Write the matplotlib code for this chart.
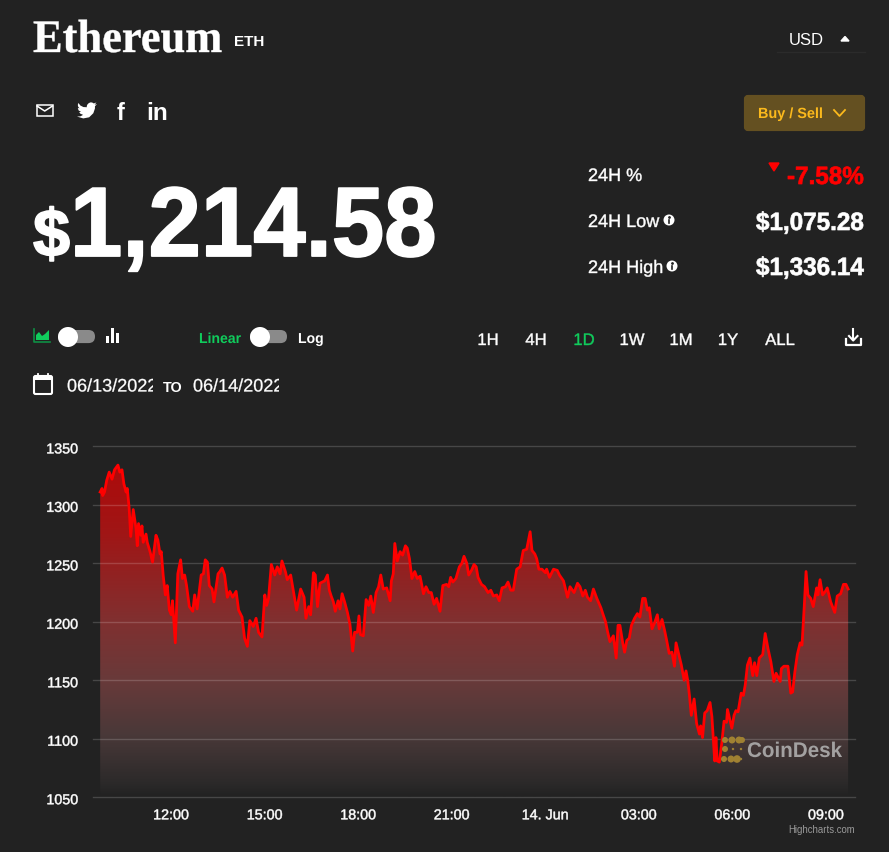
import numpy as np
import matplotlib
matplotlib.use("Agg")
import matplotlib.pyplot as plt
import matplotlib.patheffects as pe
from matplotlib.colors import LinearSegmentedColormap
from matplotlib.patches import Circle, FancyBboxPatch, Polygon, Rectangle
from matplotlib.transforms import Affine2D

plt.rcParams['font.family'] = ['Liberation Sans', 'DejaVu Sans']

BG = "#222222"
GREEN = "#10cc5c"
RED = "#ff0000"
W = 889
H = 853

# hours since 00:00 on 13 June
hours = [9.73, 9.79, 9.81, 9.87, 9.94, 10.02, 10.11, 10.19, 10.30, 10.36, 10.43, 10.49, 10.56, 10.60, 10.66, 10.71,
         10.79, 10.88, 10.92, 10.96, 11.03, 11.07, 11.11, 11.20, 11.24, 11.33, 11.41, 11.52, 11.58, 11.65, 11.69, 11.75,
         11.82, 11.88, 11.95, 12.01, 12.05, 12.14, 12.22, 12.31, 12.37, 12.44, 12.50, 12.59, 12.70, 12.76, 12.84, 12.93,
         12.97, 13.04, 13.10, 13.17, 13.23, 13.32, 13.38, 13.51, 13.57, 13.64, 13.72, 13.81, 13.89, 13.98, 14.09, 14.17,
         14.28, 14.36, 14.45, 14.53, 14.64, 14.73, 14.81, 14.92, 15.01, 15.07, 15.13, 15.22, 15.33, 15.41, 15.50, 15.56,
         15.67, 15.73, 15.84, 15.93, 16.03, 16.16, 16.27, 16.33, 16.42, 16.48, 16.57, 16.63, 16.70, 16.78, 16.93, 17.02,
         17.08, 17.14, 17.21, 17.27, 17.36, 17.42, 17.49, 17.57, 17.66, 17.74, 17.83, 17.89, 17.98, 18.03, 18.08, 18.17,
         18.26, 18.34, 18.41, 18.49, 18.58, 18.66, 18.73, 18.81, 18.92, 19.03, 19.07, 19.13, 19.18, 19.26, 19.35, 19.43,
         19.52, 19.58, 19.65, 19.73, 19.82, 19.90, 19.99, 20.10, 20.18, 20.27, 20.35, 20.44, 20.52, 20.63, 20.72, 20.84,
         20.91, 20.97, 21.04, 21.14, 21.25, 21.33, 21.40, 21.49, 21.55, 21.64, 21.72, 21.79, 21.85, 21.96, 22.06, 22.17,
         22.26, 22.34, 22.45, 22.53, 22.62, 22.73, 22.81, 22.90, 22.98, 23.09, 23.20, 23.30, 23.41, 23.52, 23.58, 23.67,
         23.73, 23.80, 23.90, 24.01, 24.05, 24.14, 24.27, 24.39, 24.46, 24.59, 24.72, 24.80, 24.93, 25.04, 25.12, 25.21,
         25.29, 25.36, 25.46, 25.55, 25.66, 25.79, 25.85, 25.94, 26.00, 26.08, 26.19, 26.28, 26.34, 26.40, 26.49, 26.55,
         26.62, 26.70, 26.77, 26.87, 26.96, 27.04, 27.13, 27.21, 27.28, 27.34, 27.43, 27.51, 27.60, 27.66, 27.75, 27.83,
         27.90, 27.98, 28.07, 28.15, 28.20, 28.28, 28.37, 28.46, 28.52, 28.58, 28.63, 28.69, 28.78, 28.86, 28.95, 28.99,
         29.05, 29.12, 29.20, 29.29, 29.35, 29.44, 29.48, 29.52, 29.59, 29.67, 29.74, 29.82, 29.85, 29.93, 29.99, 30.06,
         30.12, 30.19, 30.29, 30.36, 30.42, 30.49, 30.57, 30.66, 30.72, 30.79, 30.87, 30.98, 31.06, 31.15, 31.24, 31.34,
         31.41, 31.54, 31.58, 31.66, 31.79, 31.88, 31.94, 32.01, 32.09, 32.18, 32.24, 32.31, 32.37, 32.43, 32.52, 32.60,
         32.71, 32.75, 32.82, 32.90, 32.99, 33.05, 33.16, 33.29, 33.37, 33.48, 33.57, 33.65, 33.72]
prices = [1311, 1314, 1308, 1311, 1321, 1328, 1322, 1330, 1334, 1328, 1330, 1318, 1311, 1314, 1297, 1273,
          1296, 1280, 1265, 1284, 1274, 1282, 1268, 1275, 1268, 1260, 1251, 1274, 1270, 1258, 1260, 1240,
          1223, 1231, 1210, 1206, 1218, 1182, 1241, 1253, 1237, 1240, 1231, 1213, 1209, 1223, 1211, 1231,
          1240, 1241, 1253, 1251, 1231, 1228, 1217, 1241, 1243, 1246, 1240, 1221, 1226, 1221, 1226, 1210,
          1204, 1186, 1179, 1201, 1196, 1203, 1191, 1187, 1223, 1214, 1220, 1249, 1240, 1247, 1241, 1252,
          1243, 1236, 1240, 1226, 1210, 1228, 1221, 1203, 1213, 1206, 1242, 1240, 1213, 1233, 1235, 1240,
          1227, 1222, 1217, 1209, 1218, 1211, 1224, 1217, 1208, 1198, 1175, 1191, 1191, 1205, 1189, 1188,
          1219, 1214, 1222, 1208, 1225, 1230, 1240, 1228, 1229, 1218, 1235, 1241, 1267, 1252, 1260, 1257,
          1265, 1263, 1254, 1237, 1243, 1237, 1239, 1224, 1230, 1225, 1225, 1215, 1220, 1209, 1231, 1232,
          1230, 1238, 1234, 1237, 1247, 1250, 1256, 1250, 1240, 1244, 1249, 1247, 1238, 1232, 1230, 1225,
          1227, 1222, 1223, 1218, 1229, 1230, 1234, 1227, 1227, 1245, 1247, 1261, 1262, 1277, 1261, 1258,
          1254, 1245, 1245, 1242, 1245, 1238, 1245, 1244, 1240, 1235, 1221, 1230, 1225, 1233, 1230, 1222,
          1227, 1221, 1218, 1228, 1220, 1212, 1207, 1200, 1192, 1183, 1188, 1169, 1197, 1197, 1182, 1174,
          1184, 1186, 1197, 1203, 1207, 1204, 1220, 1220, 1210, 1212, 1194, 1199, 1206, 1194, 1202, 1193,
          1184, 1173, 1174, 1162, 1182, 1173, 1163, 1150, 1158, 1149, 1137, 1120, 1134, 1113, 1104, 1111,
          1101, 1122, 1124, 1131, 1119, 1081, 1101, 1081, 1080, 1097, 1115, 1114, 1125, 1116, 1109, 1120,
          1124, 1123, 1139, 1137, 1146, 1163, 1169, 1154, 1165, 1154, 1169, 1172, 1190, 1177, 1166, 1149,
          1156, 1149, 1160, 1162, 1162, 1139, 1140, 1157, 1172, 1182, 1180, 1212, 1243, 1223, 1220, 1213,
          1229, 1223, 1236, 1223, 1226, 1229, 1217, 1208, 1222, 1224, 1232, 1232, 1228]

y_ticks = [1050, 1100, 1150, 1200, 1250, 1300, 1350]
x_ticks = [12, 15, 18, 21, 24, 27, 30, 33]
x_labels = ["12:00", "15:00", "18:00", "21:00", "14. Jun", "03:00", "06:00", "09:00"]
ranges = ["1H", "4H", "1D", "1W", "1M", "1Y", "ALL"]
range_x = [488, 536, 584, 632, 681, 728, 780]


class Squeeze(pe.AbstractPathEffect):
    # tight letter spacing and heavier weight of the site font
    def __init__(self, x0=0, sx=1, stroke=0):
        super().__init__()
        self.x0, self.sx, self.stroke = x0, sx, stroke

    def draw_path(self, renderer, gc, tpath, affine, rgbFace=None):
        gc0 = renderer.new_gc()
        gc0.copy_properties(gc)
        gc0.set_linewidth(self.stroke)
        sq = Affine2D().translate(-self.x0, 0).scale(self.sx, 1).translate(self.x0, 0)
        renderer.draw_path(gc0, tpath, affine + sq, rgbFace)
        gc0.restore()


fig = plt.figure(figsize=(W / 100, H / 100), dpi=100, facecolor=BG)

# chart
ax = fig.add_axes([93 / W, (H - 798.2) / H, 762 / W, 350.8 / H], facecolor=BG)
xmin, xmax = 9.50, 33.94
grad = LinearSegmentedColormap.from_list("fade", [
    (0.0, (34 / 255, 34 / 255, 34 / 255)),
    (0.04, (44 / 255, 42 / 255, 42 / 255)),
    (0.17, (72 / 255, 56 / 255, 56 / 255)),
    (0.33, (104 / 255, 58 / 255, 58 / 255)),
    (0.50, (128 / 255, 48 / 255, 48 / 255)),
    (0.75, (160 / 255, 22 / 255, 22 / 255)),
    (1.0, (176 / 255, 8 / 255, 8 / 255)),
])
im = ax.imshow(np.linspace(0, 1, 256).reshape(-1, 1), cmap=grad, vmin=0, vmax=1, origin="lower",
               extent=[xmin, xmax, 1050, 1350], aspect="auto", zorder=1)
area = ax.fill_between(hours, prices, 1050, facecolor="none", edgecolor="none")
im.set_clip_path(area.get_paths()[0], transform=ax.transData)
ax.plot(hours, prices, color=RED, lw=2.0, solid_joinstyle="round", zorder=3)

ax.set_xlim(xmin, xmax)
ax.set_ylim(1050, 1350)
ax.set_yticks(y_ticks)
ax.set_xticks(x_ticks)
ax.set_xticklabels(x_labels)
ax.set_axisbelow("line")
ax.grid(axis="y", color="white", alpha=0.17, lw=1, clip_on=False)
ax.tick_params(length=0, labelcolor="white", labelsize=10.3)
ax.tick_params(axis="y", pad=10.8)
ax.tick_params(axis="x", pad=8)
for s in ax.spines.values():
    s.set_visible(False)
for lab in ax.get_xticklabels() + ax.get_yticklabels():
    lab.set_path_effects([Squeeze(stroke=0.35)])
for lab in ax.get_yticklabels():
    lab.set_transform(lab.get_transform() + Affine2D().translate(0, -1.5))

# everything around the chart, in pixel coordinates of the screenshot
ui = fig.add_axes([0, 0, 1, 1], facecolor="none")
ui.set_xlim(0, W)
ui.set_ylim(H, 0)
ui.axis("off")


def label(x, y, s, size, color="white", weight="normal", ha="left", va="baseline", squeeze=1, stroke=0, **kw):
    t = ui.text(x, y, s, fontsize=size, color=color, fontweight=weight, ha=ha, va=va, **kw)
    if squeeze != 1 or stroke:
        t.set_path_effects([Squeeze(x, squeeze, stroke)])
    return t


label(33, 53, "Ethereum", 33.5, weight="bold", family="Liberation Serif", squeeze=0.955, stroke=0.3)
label(234, 46, "ETH", 11, weight="bold")
label(789, 45, "USD", 12)
ui.add_patch(Polygon([(841, 42), (849, 42), (845, 37.5)], color="white"))
ui.plot([777, 865], [53, 53], color="#2b2b2b", lw=1)

# share icons
ui.add_patch(Rectangle((37, 106), 15.5, 11, fill=False, ec="white", lw=1.1))
ui.plot([37, 44.7, 52.5], [107, 112, 107], color="white", lw=1.1)
bird = [(24, 4.6), (21.1, 5.35), (23.3, 2.6), (20.2, 3.8), (18.5, 2.8), (16.6, 2.4), (14.2, 3.3), (12.3, 5.3),
        (11.7, 7.2), (11.78, 8.3), (7.7, 8.1), (4.1, 6.3), (1.64, 3.16), (0.97, 5.64), (1.5, 7.9), (3.16, 9.73),
        (0.93, 9.12), (1.9, 12.1), (4.88, 14), (2.67, 14.09), (3.8, 15.9), (7.27, 17.5), (4.2, 19.2), (0, 19.54),
        (7.55, 21.75), (14.6, 20.4), (19.6, 15.5), (21.55, 9.77), (21.55, 7.76), (21.54, 7.13)]
ui.add_patch(Polygon([(77 + px * 20 / 24, 101.3 + py * 20 / 24) for px, py in bird], color="white", lw=0))
label(116.5, 120, "f", 17, weight="bold")
label(146, 120, "in", 17.5, weight="bold")

# buy button
ui.add_patch(FancyBboxPatch((746, 98), 117, 32, boxstyle="round,pad=0,rounding_size=2", mutation_aspect=1,
                            fc="#645021", ec="#645021", lw=3))
label(758, 119, "Buy / Sell", 10.6, color="#fbb91c", weight="bold", squeeze=0.98)
ui.plot([834, 839.5, 845], [111, 117, 111], color="#fbb91c", lw=1.3)

# price
label(33, 257, "$", 48, weight="bold", stroke=1.2)
label(70, 257, "1,214.58", 71, weight="bold", squeeze=0.955, stroke=1.3)

# stats
label(588, 182, "24H %", 13, stroke=0.3)
label(588, 228, "24H Low", 13, stroke=0.3)
label(588, 274, "24H High", 13, stroke=0.3)
label(864, 185, "-7.58%", 18, color=RED, weight="bold", ha="right", squeeze=0.97, stroke=0.5)
label(864, 231, "$1,075.28", 18, weight="bold", ha="right", squeeze=0.97, stroke=0.5)
label(864, 276, "$1,336.14", 18, weight="bold", ha="right", squeeze=0.97, stroke=0.5)
ui.add_patch(Polygon([(769, 164), (779, 164), (774, 172)], color=RED))
for cx, cy in [(669, 221), (672, 267)]:
    ui.add_patch(Circle((cx, cy), 5.5, color="white", lw=0))
    ui.plot([cx, cx], [cy - 0.5, cy + 3], color=BG, lw=1.2)
    ui.plot([cx], [cy - 2.6], ".", color=BG, ms=2)

# chart type toggle
ui.plot([33.5, 33.5, 50], [330, 343, 343], color="#0e8f44", lw=1.2)
ui.add_patch(Polygon([(36, 341), (36, 336), (39, 333), (42, 337), (45, 335), (49, 331), (49, 341)], color=GREEN, lw=0))
for x0, x1, kx in [(58, 95, 68), (250, 287, 260)]:
    ui.add_patch(FancyBboxPatch((x0 + 6.5, 331 + 6.5), x1 - x0 - 13, 0.1, boxstyle="round,pad=6.5",
                                fc="#8a8a8a", ec="none"))
    ui.add_patch(Circle((kx, 338), 10, color="white", lw=0))
for bx, top in [(107.5, 337), (112.5, 329), (117.5, 334)]:
    ui.add_patch(Rectangle((bx - 1.5, top), 3, 344 - top, color="white", lw=0))
label(199, 344, "Linear", 10.4, color=GREEN, weight="bold", squeeze=0.97)
label(298, 344, "Log", 10.4, weight="bold", squeeze=0.97)

# dates, cut off by their input boxes like on the page
for x, s, right in [(67, "06/13/2022", 153), (193, "06/14/2022", 279)]:
    t = label(x, 392.5, s, 13, stroke=0.2)
    t.set_clip_on(True)
    t.set_clip_path(Rectangle((x, 370), right - x, 30, transform=ui.transData))
label(163, 392, "TO", 10.4, weight="bold")
ui.add_patch(FancyBboxPatch((34, 377), 18, 18, boxstyle="round,pad=0,rounding_size=1.5", fill=False, ec="white", lw=1.5))
ui.add_patch(Rectangle((34, 377), 18, 4, color="white", lw=0))
ui.plot([38, 38], [374.5, 378], color="white", lw=1.3)
ui.plot([48, 48], [374.5, 378], color="white", lw=1.3)

# range buttons
for x, s in zip(range_x, ranges):
    label(x, 346, s, 12, color=GREEN if s == "1D" else "white", ha="center", stroke=0.3)
ui.plot([845.5, 845.5, 861, 861], [340, 346, 346, 340], color="white", lw=1.6)
ui.plot([853.2, 853.2], [330, 341], color="white", lw=1.5)
ui.plot([849, 853.2, 857.5], [337, 341.5, 337], color="white", lw=1.5)

# watermark
label(747, 758, "CoinDesk", 15.3, color="#a3a1a1", weight="bold", squeeze=0.97)
gold = "#a08132"
for cx, cy, r in [(725, 741, 3), (732, 741, 3.5), (739, 741, 3.5), (742, 741, 3), (725, 750, 3),
                  (724, 760, 3), (731, 760, 3.5), (737, 760, 3.8), (733, 750, 1.2), (741, 750, 1.2), (741, 760, 1.2)]:
    ui.add_patch(Circle((cx, cy), r, color=gold, lw=0, zorder=4))

label(855, 833, "Highcharts.com", 6.9, color="#999999", ha="right")

fig.savefig("out.png", dpi=100, facecolor=BG)
